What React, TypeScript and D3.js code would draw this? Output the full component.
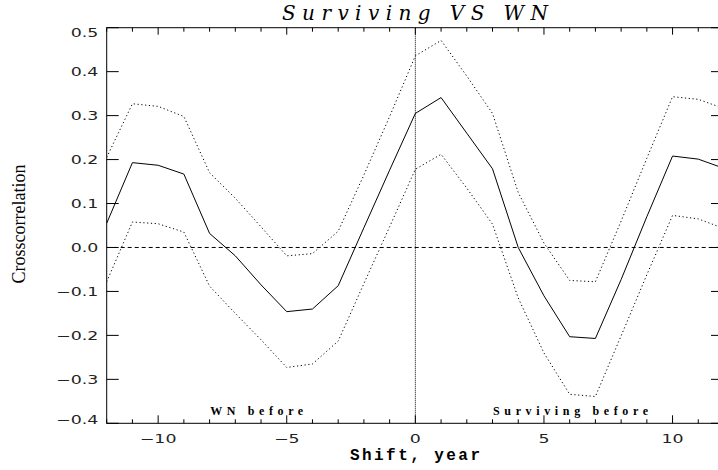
import React from 'react';
import * as d3 from 'd3';

// shift in years, -12 .. 12
const shifts = [-12, -11, -10, -9, -8, -7, -6, -5, -4, -3, -2, -1, 0, 1, 2, 3, 4, 5, 6, 7, 8, 9, 10, 11, 12];
// crosscorrelation (solid) and its confidence band (dotted)
const crossCorr = [0.055, 0.193, 0.187, 0.167, 0.032, -0.019, -0.085, -0.146, -0.140, -0.087, 0.045, 0.176, 0.305, 0.341, 0.260, 0.179, 0.000, -0.110, -0.203, -0.207, -0.073, 0.070, 0.208, 0.201, 0.180];
const upperBand = [0.205, 0.327, 0.321, 0.298, 0.170, 0.112, 0.047, -0.019, -0.014, 0.037, 0.165, 0.298, 0.436, 0.471, 0.390, 0.305, 0.125, 0.010, -0.075, -0.078, 0.060, 0.203, 0.343, 0.337, 0.316];
const lowerBand = [-0.078, 0.058, 0.054, 0.035, -0.088, -0.150, -0.210, -0.273, -0.265, -0.213, -0.082, 0.047, 0.178, 0.212, 0.135, 0.053, -0.115, -0.240, -0.334, -0.339, -0.201, -0.062, 0.073, 0.065, 0.043];

const xMajor = [-10, -5, 0, 5, 10];
const xMinor = d3.range(-12, 13, 1);
const yTicks = [0.5, 0.4, 0.3, 0.2, 0.1, 0.0, -0.1, -0.2, -0.3, -0.4];

const W = 718;
const H = 470;
const margin = { left: 106.7, right: 724, top: 27.7, bottom: 423.3 };

const fmtY = (v: number) => (v < 0 ? '\u2212' : '') + Math.abs(v).toFixed(1);
const fmtX = (v: number) => (v < 0 ? '\u2212' : '') + Math.abs(v);

export default function App() {
  const x = d3.scaleLinear().domain([-12, 12]).range([margin.left, margin.right]);
  const y = d3.scaleLinear().domain([-0.4, 0.5]).range([margin.bottom, margin.top]);

  const line = d3.line<number>()
    .x((d, i) => x(shifts[i]))
    .y(d => y(d));

  const tickFont = { fontFamily: 'DejaVu Sans', fontSize: 12, fill: '#222' };

  return (
    <svg width={W} height={H} style={{ position: 'absolute', left: 0, top: 0, background: '#fff' }}>
      <defs>
        <clipPath id="plot">
          <rect x={margin.left} y={margin.top} width={margin.right - margin.left} height={margin.bottom - margin.top} />
        </clipPath>
      </defs>

      {/* title */}
      <text x={415} y={20} textAnchor="middle" textLength={266} lengthAdjust="spacing"
        style={{ fontFamily: 'DejaVu Serif', fontStyle: 'italic', fontSize: 20 }}>Surviving VS WN</text>

      {/* reference lines */}
      <g clipPath="url(#plot)">
        <line x1={margin.left} x2={margin.right} y1={y(0)} y2={y(0)} stroke="#000" strokeWidth={1} strokeDasharray="4,3" />
        <line x1={x(0)} x2={x(0)} y1={margin.top} y2={margin.bottom} stroke="#000" strokeWidth={1} strokeDasharray="1,1" />

        <path d={line(upperBand) || ''} fill="none" stroke="#000" strokeWidth={1} strokeDasharray="1.2,2.6" />
        <path d={line(lowerBand) || ''} fill="none" stroke="#000" strokeWidth={1} strokeDasharray="1.2,2.6" />
        <path d={line(crossCorr) || ''} fill="none" stroke="#000" strokeWidth={1} />
      </g>

      {/* frame */}
      <rect x={margin.left} y={margin.top} width={margin.right - margin.left} height={margin.bottom - margin.top}
        fill="none" stroke="#000" strokeWidth={1} />

      {/* x ticks, bottom and top */}
      {xMinor.map(v => {
        const major = xMajor.includes(v);
        return (
          <g key={'xt' + v}>
            <line x1={x(v)} x2={x(v)} y1={margin.bottom} y2={margin.bottom - (major ? 8 : 4)} stroke="#000" />
            <line x1={x(v)} x2={x(v)} y1={margin.top} y2={margin.top + (major ? 7 : 4)} stroke="#000" />
          </g>
        );
      })}
      {xMajor.map(v => (
        <text key={'xl' + v} transform={`translate(${x(v)},442.7) scale(1.45,1)`} textAnchor="middle" style={tickFont}>{fmtX(v)}</text>
      ))}

      {/* y ticks, left and right */}
      {yTicks.map((v, i) => {
        const base = i === 0 ? y(v) + 9 : i === yTicks.length - 1 ? y(v) + 0.7 : y(v) + 4.3;
        return (
          <g key={'yt' + v}>
            <line x1={margin.left} x2={margin.left + 12} y1={y(v)} y2={y(v)} stroke="#000" />
            <line x1={margin.right} x2={margin.right - 13} y1={y(v)} y2={y(v)} stroke="#000" />
            <text transform={`translate(98.3,${base}) scale(1.45,1)`} textAnchor="end" style={tickFont}>{fmtY(v)}</text>
          </g>
        );
      })}

      {/* axis titles */}
      <text x={415} y={459.5} textAnchor="middle" textLength={130} lengthAdjust="spacing"
        style={{ fontFamily: 'Liberation Mono', fontWeight: 'bold', fontSize: 16 }}>Shift, year</text>
      <text transform="translate(25,224) rotate(-90)" textAnchor="middle"
        style={{ fontFamily: 'Liberation Serif', fontSize: 18 }}>Crosscorrelation</text>

      {/* annotations */}
      <text x={256.7} y={415} textAnchor="middle" textLength={93} lengthAdjust="spacing"
        style={{ fontFamily: 'Liberation Serif', fontWeight: 'bold', fontSize: 12 }}>WN before</text>
      <text x={570.5} y={415} textAnchor="middle" textLength={155} lengthAdjust="spacing"
        style={{ fontFamily: 'Liberation Serif', fontWeight: 'bold', fontSize: 12 }}>Surviving before</text>
    </svg>
  );
}
